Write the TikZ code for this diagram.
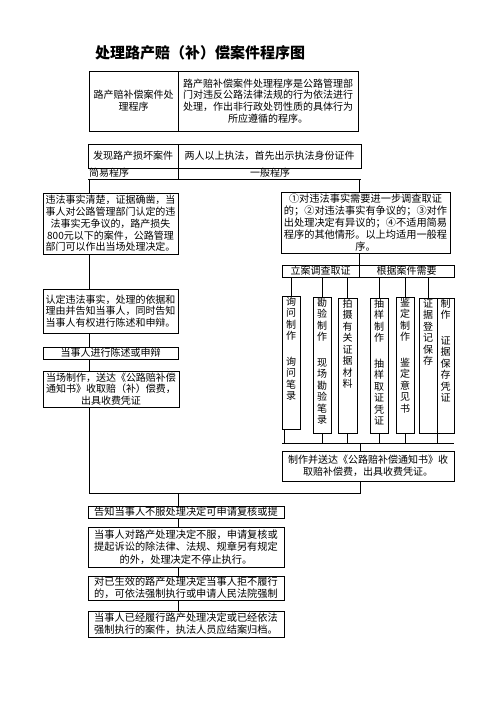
\documentclass[tikz,border=0pt]{standalone}
\usepackage{fontspec}
\newfontfamily\cjk{Noto Sans CJK SC}
\newcommand\vcol[3]{\parbox[c][#2pt][t]{#1pt}{\centering\cjk\fontsize{10}{11.5}\selectfont\vspace*{0.5pt}#3}}
\begin{document}
\begin{tikzpicture}[x=1pt,y=-1pt,
  ln/.style={line width=0.9pt},
  bx/.style={draw,line width=0.9pt,inner sep=0pt,align=center,font=\cjk\fontsize{10}{11.7}\selectfont},
  col/.style={draw,line width=0.9pt,inner sep=0pt,anchor=north},
  lab/.style={inner sep=0pt,font=\cjk\fontsize{10}{11.7}\selectfont}]
\fill[white] (0,0) rectangle (496,702);
\useasboundingbox (0,0) rectangle (496,702);

\node[inner sep=0pt,font=\cjk\bfseries\fontsize{15}{18}\selectfont] (T) at (200,53) {处理路产赔（补）偿案件程序图};

% top table
\node[bx,minimum width=89,minimum height=60] (B1L) at (133.5,101) {路产赔补偿案件处\\理程序};
\node[bx,minimum width=180,minimum height=60] (B1R) at (268,101) {路产赔补偿案件处理程序是公路管理部\\门对违反公路法律法规的行为依法进行\\处理，作出非行政处罚性质的具体行为\\所应遵循的程序。};

\node[bx,minimum width=90,minimum height=24] (B2L) at (133,156) {发现路产损坏案件};
\node[bx,minimum width=183,minimum height=24] (B2R) at (269.5,156) {两人以上执法，首先出示执法身份证件};
\coordinate (ulL) at (88,179);
\coordinate (ulR) at (361,179);
\draw[ln] (ulL) -- (ulR);
\draw[ln] (B2L.south east) -- (B2L.south east |- ulL);
\node[lab,anchor=west] (simple) at (89,173) {简易程序};
\node[lab] (general) at (270,173) {一般程序};

\coordinate (jl) at (89,179);
\coordinate (jr) at (359,179);

% left column
\node[bx,minimum width=135,minimum height=61] (A) at (110.5,223.5) {违法事实清楚，证据确凿，当\\事人对公路管理部门认定的违\\法事实无争议的，路产损失\\800元以下的案件，公路管理\\部门可以作出当场处理决定。};
\node[bx,minimum width=135,minimum height=44] (B) at (110.5,311) {认定违法事实，处理的依据和\\理由并告知当事人，同时告知\\当事人有权进行陈述和申辩。};
\node[bx,minimum width=135,minimum height=12] (C) at (110.5,353) {当事人进行陈述或申辩};
\node[bx,minimum width=136,minimum height=36] (D) at (111,389) {当场制作，送达《公路赔补偿\\通知书》收取赔（补）偿费，\\出具收费凭证};

% right column
\node[bx,minimum width=169,minimum height=61,font=\cjk\fontsize{10.2}{12}\selectfont] (E) at (365.5,222.5) {①对违法事实需要进一步调查取证\\的；②对违法事实有争议的；③对作\\出处理决定有异议的；④不适用简易\\程序的其他情形。以上均适用一般程\\序。};
\node[bx,minimum width=77,minimum height=12] (F1) at (320.5,271) {立案调查取证};
\node[bx,minimum width=95,minimum height=12] (F2) at (406.5,271) {根据案件需要};

\node[col] (c1) at (291,296) {\vcol{18}{133}{询\\问\\制\\作\\[14pt]询\\问\\笔\\录}};
\node[col] (c2) at (322,297) {\vcol{18}{136}{勘\\验\\制\\作\\[14pt]现\\场\\勘\\验\\笔\\录}};
\node[col] (c3) at (347.5,298) {\vcol{19}{135}{拍\\摄\\有\\关\\证\\据\\材\\料}};
\node[col] (c4) at (379,298) {\vcol{18}{135}{抽\\样\\制\\作\\[14pt]抽\\样\\取\\证\\凭\\证}};
\node[col] (c5) at (405,297) {\vcol{18}{136}{鉴\\定\\制\\作\\[14pt]鉴\\定\\意\\见\\书}};
\node[col] (c6) at (428,298) {\vcol{18}{135}{证\\据\\登\\记\\保\\存}};
\node[col] (c7) at (445.5,298) {\vcol{17}{135}{制\\作\\[14pt]证\\据\\保\\存\\凭\\证}};

\node[bx,minimum width=172,minimum height=30] (H) at (368,466) {制作并送达《公路赔补偿通知书》收\\取赔补偿费，出具收费凭证。};

% bottom column
\node[bx,minimum width=196,minimum height=12,font=\cjk\fontsize{10.2}{11.7}\selectfont] (I) at (186,512) {告知当事人不服处理决定可申请复核或提};
\node[bx,minimum width=196,minimum height=40,font=\cjk\fontsize{10.2}{12.3}\selectfont] (J) at (186,547) {当事人对路产处理决定不服，申请复核或\\提起诉讼的除法律、法规、规章另有规定\\的外，处理决定不停止执行。};
\node[bx,minimum width=196,minimum height=24,font=\cjk\fontsize{10.2}{11.7}\selectfont] (K) at (186,588) {对已生效的路产处理决定当事人拒不履行\\的，可依法强制执行或申请人民法院强制};
\node[bx,minimum width=196,minimum height=26,font=\cjk\fontsize{10.2}{11.7}\selectfont] (L) at (186,624) {当事人已经履行路产处理决定或已经依法\\强制执行的案件，执法人员应结案归档。};

% junction coordinates
\coordinate (bl) at (89,493);
\coordinate (br) at (360,493);
\coordinate (bm) at (178,493);
\coordinate (busL) at (282,443);
\coordinate (busR) at (454,443);

% connectors left
\draw[ln] (jl) -- (jl |- A.north);
\draw[ln] (A.south -| jl) -- (B.north -| jl);
\draw[ln] (B.south -| jl) -- (C.north -| jl);
\draw[ln] (C.south -| jl) -- (D.north -| jl);
\draw[ln] (D.south -| jl) -- (bl) -- (br) -- (br |- H.south);
\draw[ln] (bm) -- (bm |- I.north);
\draw[ln] (I.south -| bm) -- (J.north -| bm);
\draw[ln] (J.south -| bm) -- (K.north -| bm);
\draw[ln] (K.south -| bm) -- (L.north -| bm);

% connectors right
\draw[ln] (jr) -- (jr |- E.north);
\draw[ln] (E.south -| jr) -- (jr |- F1.north);
\draw[ln] (c1.north) -- (c1.north |- F1.south);
\draw[ln] (c2.north) -- (c2.north |- F1.south);
\draw[ln] (c3.north) -- (c3.north |- F1.south);
\draw[ln] (c4.north) -- (c4.north |- F2.south);
\draw[ln] (c5.north) -- (c5.north |- F2.south);
\draw[ln] (c6.north) -- (c6.north |- F2.south);

\draw[ln] (busL) -- (busR);
\coordinate (s1) at ([xshift=3pt]c1.south west);
\draw[ln] (s1) -- (s1 |- busL);
\draw[ln] (c2.south) -- (c2.south |- busL);
\draw[ln] (c3.south) -- (c3.south |- busL);
\draw[ln] (c4.south) -- (c4.south |- busL);
\draw[ln] (c5.south) -- (c5.south |- busL);
\draw[ln] (c6.south east) -- (c6.south east |- busL);
\draw[ln] (br |- busL) -- (br |- H.north);
\end{tikzpicture}
\end{document}
